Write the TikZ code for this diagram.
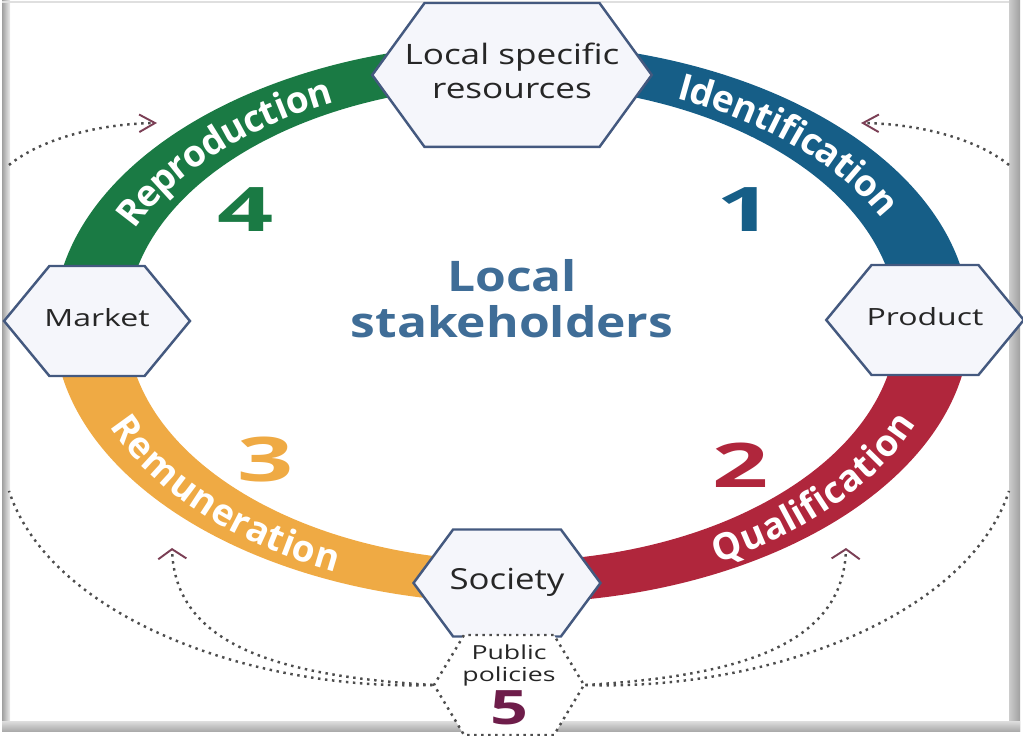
\documentclass[tikz,border=0pt]{standalone}
\usepackage{fontspec}
\setmainfont{Open Sans}
\usepackage{graphicx}
\usetikzlibrary{positioning,calc,shapes.symbols,arrows.meta,decorations.text}

\definecolor{ringgreen}{HTML}{1A7A44}
\definecolor{ringblue}{HTML}{165E87}
\definecolor{ringred}{HTML}{B0263C}
\definecolor{ringyellow}{HTML}{EFAA44}
\definecolor{hexline}{HTML}{44597F}
\definecolor{hexfill}{HTML}{F5F6FB}
\definecolor{stake}{HTML}{3F6D97}
\definecolor{policy}{HTML}{6E1D4A}
\definecolor{dotcol}{HTML}{4D4D4D}
\definecolor{tipcol}{HTML}{7B3F55}

\newcommand{\xwide}[2][1.35]{\scalebox{#1}[1]{\begin{tabular}{@{}c@{}}#2\end{tabular}}}
\newcommand{\ringfont}{\color{white}\bfseries\fontsize{21}{21}\selectfont}

\tikzstyle{hex} = [signal, signal to=west and east, signal from=nowhere,
                   draw=hexline, fill=hexfill, line width=1.4pt,
                   inner sep=0pt, text=black!85]
\tikzstyle{dotline} = [dotcol, line width=1.4pt, dash pattern=on 1.4pt off 2.6pt]
\tikzstyle{sidetip} = [-{Straight Barb[color=tipcol,length=9pt,width=10pt,line width=1.1pt]}]
\tikzstyle{uptip} = [-{Straight Barb[color=tipcol,length=5.5pt,width=16pt,line width=1.1pt]}]
\tikzstyle{bignum} = [font=\bfseries\fontsize{35}{35}\selectfont]

\begin{document}
\begin{tikzpicture}[x=0.02cm, y=0.02cm]

   \useasboundingbox (0,0) rectangle (1023,736);

   % frame
   \fill[left color=gray!75, right color=gray!15] (2,4) rectangle (10,735);
   \fill[gray!25] (2,733) rectangle (1012,735);
   \fill[left color=gray!40, right color=gray!75] (1009,4) rectangle (1020,735);
   \fill[top color=gray!30, bottom color=gray!70] (2,4) rectangle (1020,14);

   \coordinate (ctr) at (512,413);

   % ring
   \foreach \from/\to/\col in {0/90/ringblue,90/180/ringgreen,
                               180/270/ringyellow,270/360/ringred}
     \fill[\col] (ctr) ++(\from:458 and 280)
        arc[start angle=\from, end angle=\to, x radius=458, y radius=280]
        -- ($(ctr)+(\to:385 and 238)$)
        arc[start angle=\to, end angle=\from, x radius=385, y radius=238]
        -- cycle;

   % ring labels
   \path[decorate, decoration={text along path, text align=center, raise=-7.5pt,
         text={|\ringfont|Reproduction}}]
     (ctr) ++(168:421.5 and 259) arc[start angle=168, end angle=108, x radius=421.5, y radius=259];
   \path[decorate, decoration={text along path, text align=center, raise=-7.5pt,
         text={|\ringfont|Identification}}]
     (ctr) ++(72:421.5 and 259) arc[start angle=72, end angle=18, x radius=421.5, y radius=259];
   \path[decorate, decoration={text along path, text align=center, raise=-7.5pt,
         text={|\ringfont|Qualification}}]
     (ctr) ++(-67:421.5 and 259) arc[start angle=-67, end angle=-13, x radius=421.5, y radius=259];
   \path[decorate, decoration={text along path, text align=center, raise=-7.5pt,
         text={|\ringfont|Remuneration}}]
     (ctr) ++(194:421.5 and 259) arc[start angle=194, end angle=251, x radius=421.5, y radius=259];

   % numbers and centre
   \node[bignum, text=ringgreen]  (four)  at (246,526) {\scalebox{1.6}[1]{4}};
   \node[bignum, text=ringblue]   (one)   at (745,526) {\scalebox{1.6}[1]{1}};
   \node[bignum, text=ringyellow] (three) at (266,276) {\scalebox{1.6}[1]{3}};
   \node[bignum, text=ringred]    (two)   at (741,271) {\scalebox{1.6}[1]{2}};
   \node[text=stake, font=\bfseries\fontsize{24}{25}\selectfont] (stake) at (512,431)
        {\xwide[1.18]{Local\\stakeholders}};

   % hexagons
   \node[hex, inner xsep=-0.4cm, minimum height=2.88cm, signal pointer angle=108,
         font=\fontsize{16}{19}\selectfont] (resources) at (512,661)
        {\xwide[1.25]{Local specific\\resources}};
   \node[hex, inner xsep=-0.1cm, minimum height=2.2cm, signal pointer angle=101,
         font=\fontsize{13.5}{16}\selectfont] (market) at (97,415) {\xwide{Market}};
   \node[hex, inner xsep=-0.1cm, minimum height=2.2cm, signal pointer angle=101,
         font=\fontsize{13.5}{16}\selectfont] (product) at (925,416) {\xwide{Product}};
   \node[hex, inner xsep=-0.07cm, minimum height=2.14cm, signal pointer angle=107,
         font=\fontsize{16.5}{19}\selectfont] (society) at (507,153) {\xwide[1.2]{Society}};
   \node[hex, draw=dotcol, fill=white, dash pattern=on 1.4pt off 2.6pt,
         minimum width=3.0cm, minimum height=2.0cm, signal pointer angle=118] (public) at (509,51) {};
   \node[font=\fontsize{11}{13}\selectfont, text=black!85] (pubtext) at (509,70)
        {\xwide[1.38]{Public\\policies}};
   \node[font=\bfseries\fontsize{27}{27}\selectfont, text=policy] (five) at (509,28)
        {\scalebox{1.4}[1]{5}};

   % feedback arrows
   \coordinate (tlfree) at (9,571);
   \coordinate (trfree) at (1009,571);
   \coordinate (tlhead) at (157,613);
   \coordinate (trhead) at (861,613);
   \coordinate (blfree) at (9,245);
   \coordinate (brfree) at (1009,245);
   \coordinate (blhead) at (172,188);
   \coordinate (brhead) at (846,188);

   \draw[dotline, sidetip] (tlfree) .. controls (40,596) and (95,612) .. (tlhead);
   \draw[dotline, sidetip] (trfree) .. controls (978,596) and (923,612) .. (trhead);
   \draw[dotline] (public.west) .. controls (250,45) and (50,120) .. (blfree);
   \draw[dotline] (public.east) .. controls (768,45) and (968,120) .. (brfree);
   \draw[dotline, uptip] (public.west) .. controls (280,60) and (175,90) .. (blhead);
   \draw[dotline, uptip] (public.east) .. controls (738,60) and (843,90) .. (brhead);

\end{tikzpicture}
\end{document}
